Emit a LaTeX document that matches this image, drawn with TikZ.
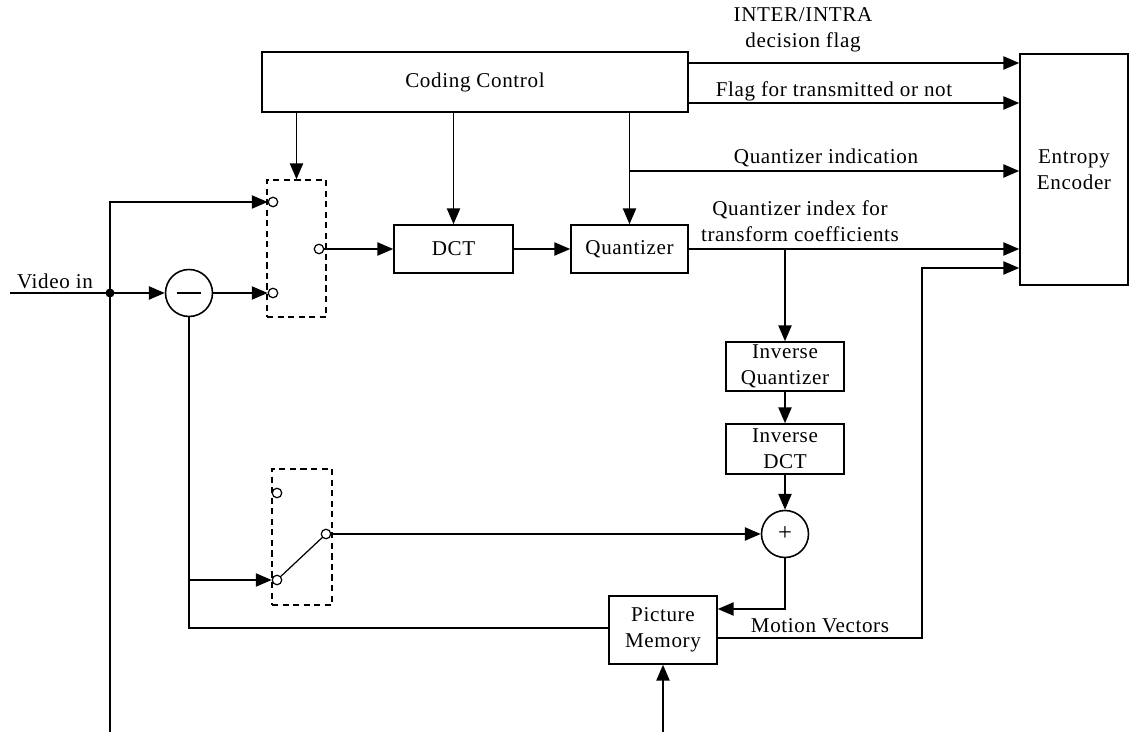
\documentclass[tikz,border=0pt]{standalone}
\usepackage{fontspec}
\setmainfont{Liberation Serif}[LetterSpace=3]
\usetikzlibrary{arrows.meta}

\tikzset{
  blk/.style={draw, line width=0.9pt, align=center, inner sep=1pt},
  sumnode/.style={draw, circle, line width=0.9pt, inner sep=0pt, minimum size=0.94cm},
  contact/.style={draw, circle, line width=0.7pt, inner sep=0pt, minimum size=0.19cm, fill=white},
  swbox/.style={draw, line width=0.9pt, dash pattern=on 3.5pt off 2.5pt, inner sep=0pt},
  flow/.style={-{Triangle[length=9pt,width=7.5pt]}, line width=0.9pt},
  wire/.style={line width=0.9pt},
  lbl/.style={align=center, inner sep=0pt},
}

\begin{document}
\begin{tikzpicture}[x=0.02cm, y=-0.02cm, font=\fontsize{12}{15}\selectfont]
  \useasboundingbox (0,0) rectangle (1130,732);

  % blocks
  \node[blk, minimum width=8.52cm, minimum height=1.2cm] (cc) at (475,82) {Coding Control};
  \node[blk, minimum width=2.38cm, minimum height=0.96cm] (dct) at (453.5,249) {DCT};
  \node[blk, minimum width=2.34cm, minimum height=0.96cm] (quant) at (629.5,249) {Quantizer};
  \node[blk, minimum width=2.36cm, minimum height=0.98cm] (iq) at (785,366.5) {Inverse\\Quantizer};
  \node[blk, minimum width=2.36cm, minimum height=1.0cm] (idct) at (785,449) {Inverse\\DCT};
  \node[blk, minimum width=2.16cm, minimum height=1.36cm] (pm) at (663,630) {Picture\\Memory};
  \node[blk, minimum width=2.16cm, minimum height=4.62cm] (enc) at (1074,169.5) {Entropy\\Encoder};
  \node[sumnode] (minus) at (189,293) {};
  \draw[wire] ([xshift=-7pt]minus.center) -- ([xshift=7pt]minus.center);
  \node[sumnode, font=\fontsize{14}{15}\selectfont] (plus) at (785,534) {+};
  \fill (110,293) circle (4.5) coordinate (jn);

  % switches
  \node[swbox, minimum width=1.18cm, minimum height=2.74cm] (sw1) at (296.5,248.5) {};
  \node[contact] (sw1t) at (273,202) {};
  \node[contact] (sw1b) at (273,293) {};
  \node[contact] (sw1o) at (319,249) {};
  \node[swbox, minimum width=1.2cm, minimum height=2.72cm] (sw2) at (302,537) {};
  \node[contact] (sw2t) at (277,493) {};
  \node[contact] (sw2b) at (277,580) {};
  \node[contact] (sw2o) at (326,534) {};
  \draw[line width=0.7pt] (sw2b) -- (sw2o);

  % labels
  \node[lbl] (lblinter) at (803,30) {INTER/INTRA\\decision flag};
  \node[lbl] (lblflag) at (834,91) {Flag for transmitted or not};
  \node[lbl] (lblqind) at (826,158) {Quantizer indication};
  \node[lbl] (lblqidx) at (800,221) {Quantizer index for\\transform coefficients};
  \node[lbl] (lblmv) at (820,626) {Motion Vectors};
  \node[lbl] (lblvin) at (55,281) {Video in};

  % control lines
  \draw[flow] (cc.east |- 0,63) -- (enc.west |- 0,63);
  \draw[flow] (cc.east |- 0,103) -- (enc.west |- 0,103);
  \draw[flow] (cc.south -| sw1.north) -- (sw1.north);
  \draw[flow] (cc.south -| dct.north) -- (dct.north);
  \draw[flow] (cc.south -| quant.north) -- (quant.north);
  \draw[flow] (quant.north |- 0,171) -- (enc.west |- 0,171);

  % forward path
  \draw[wire] (10,293) -- (jn);
  \draw[flow] (jn) |- (sw1t.west);
  \draw[flow] (jn) -- (minus.west);
  \draw[flow] (minus.east) -- (sw1b.west);
  \draw[flow] (sw1o.east) -- (dct.west);
  \draw[flow] (dct.east) -- (quant.west);
  \draw[flow] (quant.east) -- (enc.west |- quant.east);
  \draw[flow] (iq.north |- quant.east) -- (iq.north);
  \draw[flow] (iq.south) -- (idct.north);
  \draw[flow] (idct.south) -- (plus.north);

  % feedback
  \draw[flow] (sw2o.east) -- (plus.west);
  \draw[flow] (plus.south) |- (pm.east |- 0,609);
  \draw[wire] (pm.west |- 0,628) -| (minus.south);
  \draw[flow] (minus.south |- sw2b) -- (sw2b.west);
  \draw[flow] (pm.east |- 0,638) -| (922,268) -- (enc.west |- 0,268);
  \draw[wire] (jn) -- (110,732);
  \draw[flow] (pm.south |- 0,732) -- (pm.south);
\end{tikzpicture}
\end{document}
